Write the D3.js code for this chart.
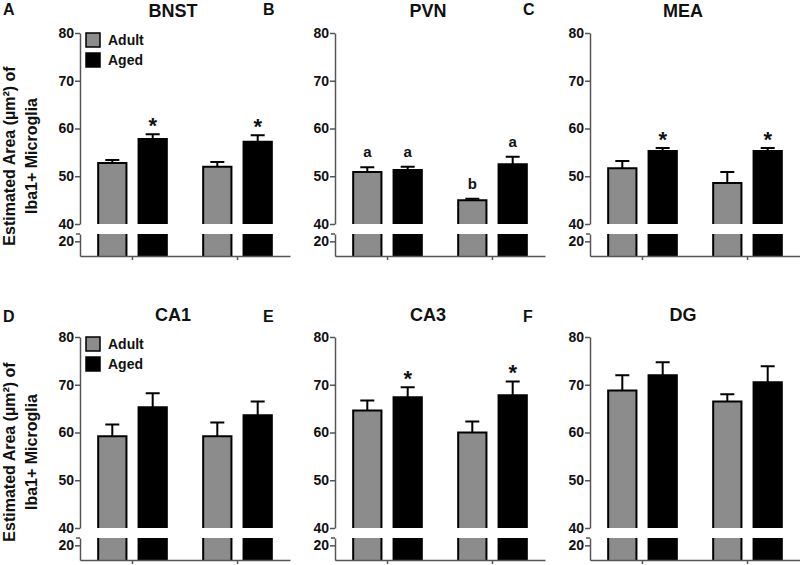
<!DOCTYPE html>
<html>
<head>
<meta charset="utf-8">
<script src="https://cdn.jsdelivr.net/npm/d3@7"></script>
<style>
  body { margin: 0; background: #fff; }
  text { font-family: Arial, "Liberation Sans", sans-serif; font-weight: bold; fill: #111; }
</style>
</head>
<body>
<div id="chart"></div>
<script>
// Microglia area per brain region, two conditions per panel
const regions = ["BNST", "PVN", "MEA", "CA1", "CA3", "DG"];
const letters = ["A", "B", "C", "D", "E", "F"];
const groups = ["Adult", "Aged"];
const conditions = [0, 1];

const adultMean = [[52.8, 52.0], [50.9, 45.0], [51.7, 48.6], [59.2, 59.2], [64.6, 60.0], [68.8, 66.5]];
const adultSem  = [[0.6, 1.0], [1.0, 0.3], [1.5, 2.3], [2.5, 2.9], [2.1, 2.3], [3.2, 1.5]];
const agedMean  = [[57.8, 57.2], [51.3, 52.5], [55.3, 55.3], [65.3, 63.6], [67.4, 67.8], [72.0, 70.5]];
const agedSem   = [[1.0, 1.4], [0.7, 1.6], [0.6, 0.6], [2.9, 2.9], [2.1, 2.9], [2.7, 3.4]];
const adultMarks = [["", ""], ["a", "b"], ["", ""], ["", ""], ["", ""], ["", ""]];
const agedMarks  = [["*", "*"], ["a", "a"], ["*", "*"], ["", ""], ["*", "*"], ["", ""]];

const yTicks = [40, 50, 60, 70, 80];
const breakTicks = [20];
const yLabel = ["Estimated Area (µm²) of", "Iba1+ Microglia"];

const width = 800;
const height = 565;

const svg = d3.select("#chart")
  .append("svg")
  .attr("width", width)
  .attr("height", height);

const color = d3.scaleOrdinal().domain(groups).range(["#8c8c8c", "#000"]);

// Scales (shared by all panels, panels are translated)
const x0 = d3.scaleBand().domain(conditions).range([0, 210]);
const x1 = d3.scaleBand().domain(groups)
  .range([0, x0.bandwidth()])
  .paddingInner(0.3)
  .paddingOuter(0.45);
const y = d3.scaleLinear().domain([40, 80]).range([224, 33]);
const yb = d3.scaleLinear().domain([10, 25]).range([256, 234]);

function styleAxis(sel) {
  sel.selectAll("path, line").attr("stroke", "#555").attr("stroke-width", 1.5);
  sel.selectAll("text").attr("font-size", "14px").attr("font-weight", "bold").attr("fill", "#111");
}

regions.forEach((name, i) => {
  const col = i % 3;
  const row = Math.floor(i / 3);
  const g = svg.append("g")
    .attr("transform", `translate(${80 + col * 255}, ${row * 304})`);

  const bars = [];
  conditions.forEach(c => {
    bars.push({ c, k: "Adult", mean: adultMean[i][c], sem: adultSem[i][c], mark: adultMarks[i][c] });
    bars.push({ c, k: "Aged", mean: agedMean[i][c], sem: agedSem[i][c], mark: agedMarks[i][c] });
  });
  const bx = d => x0(d.c) + x1(d.k);
  const cx = d => bx(d) + x1.bandwidth() / 2;
  const bw = x1.bandwidth();

  // error bars (upper only)
  g.selectAll(".err")
    .data(bars)
    .enter()
    .append("path")
    .attr("d", d => `M${cx(d)},${y(d.mean)}V${y(d.mean + d.sem)}M${cx(d) - 7},${y(d.mean + d.sem)}H${cx(d) + 7}`)
    .attr("stroke", "#000")
    .attr("stroke-width", 2)
    .attr("fill", "none");

  // upper bar part
  g.selectAll(".bar-up")
    .data(bars)
    .enter()
    .append("rect")
    .attr("x", bx)
    .attr("y", d => y(d.mean))
    .attr("width", bw)
    .attr("height", d => y(40) - y(d.mean))
    .attr("fill", d => color(d.k));

  g.selectAll(".outline-up")
    .data(bars)
    .enter()
    .append("path")
    .attr("d", d => `M${bx(d)},${y(40)}V${y(d.mean)}H${bx(d) + bw}V${y(40)}`)
    .attr("stroke", "#000")
    .attr("stroke-width", 2)
    .attr("fill", "none");

  // lower bar part (below the axis break)
  g.selectAll(".bar-low")
    .data(bars)
    .enter()
    .append("rect")
    .attr("x", bx)
    .attr("y", yb(25))
    .attr("width", bw)
    .attr("height", yb(10) - yb(25))
    .attr("fill", d => color(d.k));

  g.selectAll(".outline-low")
    .data(bars)
    .enter()
    .append("path")
    .attr("d", d => `M${bx(d)},${yb(10)}V${yb(25)}M${bx(d) + bw},${yb(25)}V${yb(10)}`)
    .attr("stroke", "#000")
    .attr("stroke-width", 2)
    .attr("fill", "none");

  // axes
  g.append("g")
    .call(d3.axisLeft(y).tickValues(yTicks).tickSize(5).tickSizeOuter(0).tickPadding(1))
    .call(styleAxis);

  const low = g.append("g")
    .call(d3.axisLeft(yb).tickValues(breakTicks).tickSize(5).tickSizeOuter(0).tickPadding(1))
    .call(styleAxis);
  low.append("path")
    .attr("d", `M-4,${yb(25)}H0`)
    .attr("stroke", "#555")
    .attr("stroke-width", 1.5);

  g.append("g")
    .attr("transform", `translate(0, ${yb(10)})`)
    .call(d3.axisBottom(x0).tickSize(4).tickSizeOuter(0).tickFormat(""))
    .call(styleAxis);

  // significance marks
  g.selectAll(".mark")
    .data(bars.filter(d => d.mark))
    .enter()
    .append("text")
    .attr("x", cx)
    .attr("y", d => d.mark === "*" ? y(d.mean + d.sem) - 1 : y(d.mean + d.sem) - 10)
    .attr("text-anchor", "middle")
    .attr("font-size", d => d.mark === "*" ? "22px" : "15px")
    .text(d => d.mark);

  // title
  g.append("text")
    .attr("x", 93)
    .attr("y", 16.5)
    .attr("text-anchor", "middle")
    .attr("font-size", "18px")
    .text(name);

  // panel letter
  svg.append("text")
    .attr("x", [3, 263, 523][col])
    .attr("y", 15 + row * 307)
    .attr("font-size", "16px")
    .text(letters[i]);

  if (col === 0) {
    // legend
    const legend = g.append("g").attr("transform", `translate(6, ${y(80)})`);
    const items = legend.selectAll(".legend-item")
      .data(groups)
      .enter()
      .append("g")
      .attr("transform", (d, j) => `translate(0, ${j * 20})`);
    items.append("rect")
      .attr("width", 14)
      .attr("height", 14)
      .attr("fill", d => color(d))
      .attr("stroke", "#000")
      .attr("stroke-width", 1.5);
    items.append("text")
      .attr("x", 22)
      .attr("y", 12)
      .attr("font-size", "14px")
      .text(d => d);

    // y label
    const cy = row === 0 ? 156 : 452;
    yLabel.forEach((line, j) => {
      svg.append("text")
        .attr("transform", `translate(${14.5 + j * 22}, ${cy}) rotate(-90)`)
        .attr("text-anchor", "middle")
        .attr("font-size", "16px")
        .text(line);
    });
  }
});
</script>
</body>
</html>
